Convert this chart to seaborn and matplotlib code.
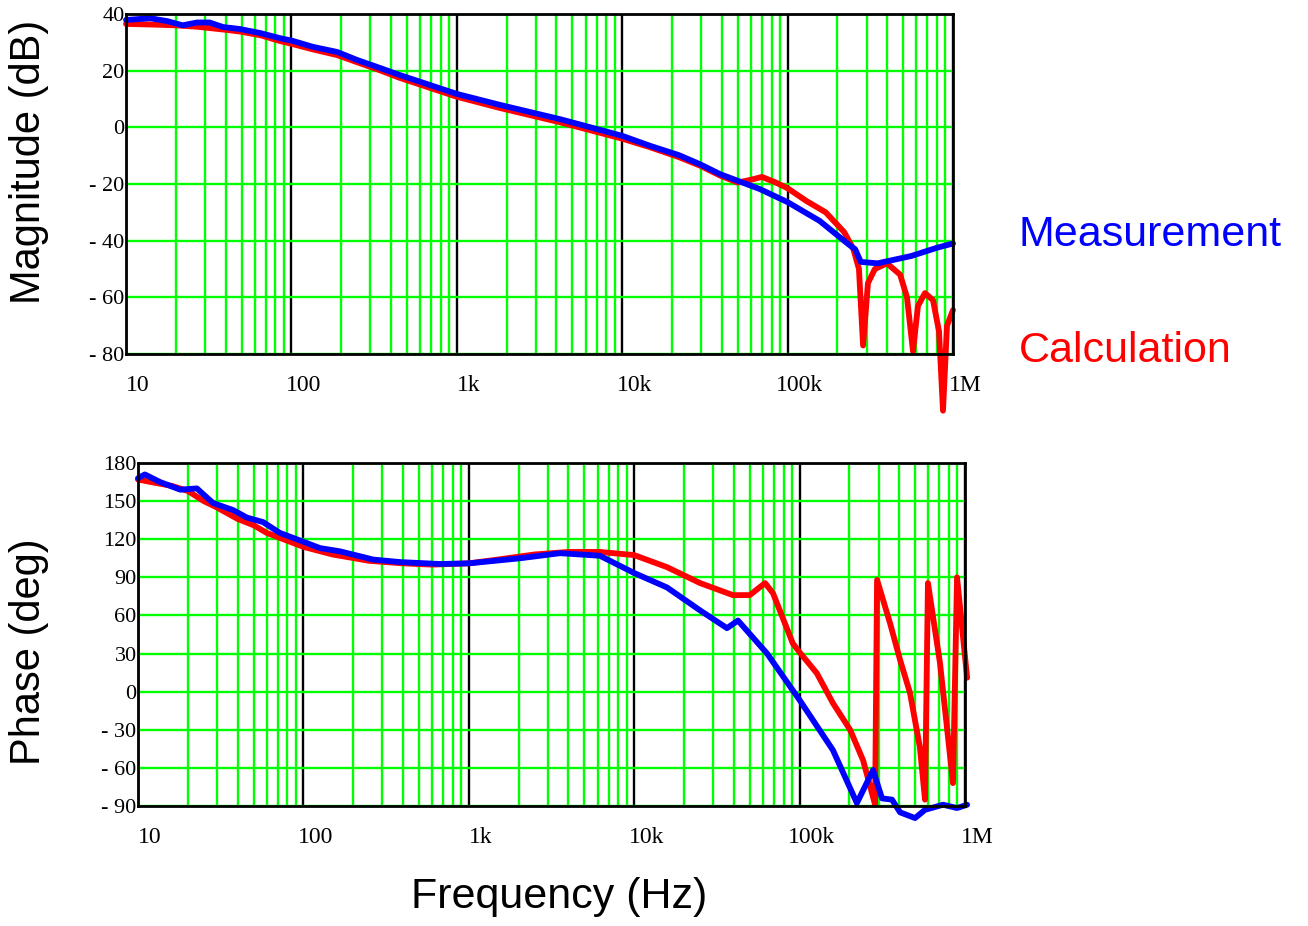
import numpy as np
import pandas as pd
import matplotlib
matplotlib.use("Agg")
import matplotlib.pyplot as plt
import matplotlib.ticker as mticker
import matplotlib.transforms as mtransforms
import seaborn as sns

# ---------------- data ----------------
mag_meas_f = [10, 14, 17.7, 22, 26.9, 32, 38.6, 48.8, 64.5, 85, 102, 135, 189, 249, 330, 450,
              1000, 1830, 4200, 10000, 14700, 22000, 29500, 39000, 68000, 100000, 156000,
              236000, 256000, 277000, 350000, 560000, 800000, 1000000]
mag_meas_db = [37.9, 38.5, 37.5, 36, 37, 37, 35.4, 34.7, 33.3, 31.5, 30.5, 28.4, 26.6, 23.8, 21.3, 18.5,
               11.8, 7.9, 2.9, -3, -6.5, -9.8, -13, -16.5, -21.8, -26.4, -33,
               -41.5, -43, -47.5, -48, -45.4, -42.5, -41]

mag_calc_f = [10, 14, 20, 27, 39, 49, 65, 85, 100, 135, 189, 249, 330, 450, 1000, 1830, 4200,
              10000, 14700, 22000, 29500, 39000, 50000, 60000, 70000, 85000, 100000, 130000,
              170000, 220000, 250000, 270000, 286000, 306000, 337000, 399000, 479000, 527000,
              573000, 614000, 677000, 757000, 823000, 870000, 920000, 1000000]
mag_calc_db = [36.5, 36.3, 36, 35.5, 34.5, 33.8, 32.5, 30.5, 29.5, 27.5, 25.5, 23, 20.5, 17.5, 10.8, 6.8, 1.8,
               -4, -7, -10.5, -13.5, -17, -19.5, -18.5, -17.5, -19.5, -21.5, -26,
               -30, -37, -43, -50, -77, -55, -50, -48, -52, -60,
               -79, -63, -58.5, -61, -72, -100, -70, -64.5]

ph_meas_f = [10, 11, 13.6, 18, 22.7, 28.4, 37.5, 45.6, 57, 72, 100, 126, 166, 264, 384, 670,
             1000, 2040, 3560, 6200, 10000, 15800, 25000, 36400, 42400, 63600, 100000, 159000,
             222000, 278000, 315000, 362000, 405000, 499000, 573000, 736000, 895000, 1030000]
ph_meas_deg = [168, 171, 165, 159, 160, 148.5, 143, 137, 133.5, 125, 118, 113, 110.5, 104, 102, 100.5,
               101, 105, 109, 107, 93.4, 82, 64, 50, 56, 30, -6.6, -46,
               -87.7, -61.7, -84, -85, -95, -99.5, -93, -89, -91.6, -89]

ph_calc_f = [10, 12, 16, 20, 25, 30, 40, 50, 60, 100, 150, 250, 400, 600, 1000, 1500, 2500, 4000,
             6200, 10000, 15800, 25000, 39500, 50000, 61800, 69000, 91000, 100000, 127000,
             159000, 202000, 242000, 286000, 294000, 352000, 405000, 465000, 534000, 573000,
             597000, 706000, 846000, 895000, 1030000]
ph_calc_deg = [167, 165, 162, 158, 150, 145, 136, 131, 125, 114, 108, 103, 101, 100, 101, 104, 108, 110,
               110, 107.5, 98, 85.5, 76, 76, 85.5, 77.6, 38, 31, 14.6,
               -9, -30, -54, -89, 88, 54, 25, -1, -44, -85,
               85.5, 22.5, -72, 90, 11]

x_ticks = [10, 100, 1000, 10000, 100000, 1000000]
x_labels = ["10", "100", "1k", "10k", "100k", "1M"]
mag_ticks = [40, 20, 0, -20, -40, -60, -80]
mag_labels = ["40", "20", "0", "- 20", "- 40", "- 60", "- 80"]
ph_ticks = [180, 150, 120, 90, 60, 30, 0, -30, -60, -90]
ph_labels = ["180", "150", "120", "90", "60", "30", "0", "- 30", "- 60", "- 90"]

# ---------------- figure ----------------
sns.set_style("white")
plt.rcParams['font.family'] = ['Liberation Sans', 'DejaVu Sans']
plt.rcParams['text.color'] = 'black'
plt.rcParams['xtick.color'] = 'black'
plt.rcParams['ytick.color'] = 'black'

W, H = 1308, 926
fig = plt.figure(figsize=(W / 100, H / 100), dpi=100)
ax1 = fig.add_axes([126 / W, 1 - 354 / H, (953 - 126) / W, (354 - 14) / H])
ax2 = fig.add_axes([138 / W, 1 - 806 / H, (965 - 138) / W, (806 - 463) / H])

GREEN = (0, 1, 0)
BLUE = (0, 0, 1)
RED = (1, 0, 0)

df_mm = pd.DataFrame({"f": mag_meas_f, "v": mag_meas_db})
df_mc = pd.DataFrame({"f": mag_calc_f, "v": mag_calc_db})
df_pm = pd.DataFrame({"f": ph_meas_f, "v": ph_meas_deg})
df_pc = pd.DataFrame({"f": ph_calc_f, "v": ph_calc_deg})

offset = mtransforms.ScaledTranslation(12 / 100, 0, fig.dpi_scale_trans)

def style(ax, yticks, ylabels, ylim):
    ax.set_xscale("log")
    ax.set_xlim(10, 1e6)
    ax.set_ylim(*ylim)
    ax.xaxis.set_major_locator(mticker.FixedLocator(x_ticks))
    ax.xaxis.set_major_formatter(mticker.FixedFormatter(x_labels))
    ax.xaxis.set_minor_locator(mticker.LogLocator(base=10, subs=np.arange(2, 10)))
    ax.xaxis.set_minor_formatter(mticker.NullFormatter())
    ax.yaxis.set_major_locator(mticker.FixedLocator(yticks))
    ax.yaxis.set_major_formatter(mticker.FixedFormatter(ylabels))
    ax.set_axisbelow(True)
    ax.xaxis.grid(True, which="minor", color=GREEN, lw=1.7)
    ax.yaxis.grid(True, which="major", color=GREEN, lw=1.7)
    ax.xaxis.grid(True, which="major", color="black", lw=1.7)
    ax.tick_params(axis="both", which="both", length=0)
    ax.tick_params(axis="x", pad=15)
    ax.tick_params(axis="y", pad=1)
    for lbl in ax.get_yticklabels():
        lbl.set_fontfamily("Liberation Serif")
        lbl.set_fontsize(16)
    for lbl in ax.get_xticklabels():
        lbl.set_fontfamily("Liberation Serif")
        lbl.set_fontsize(17)
        lbl.set_ha("center")
        lbl.set_transform(lbl.get_transform() + offset)
    for s in ax.spines.values():
        s.set_color("black")
        s.set_linewidth(2)
        s.set_visible(True)
    ax.set_xlabel("")
    ax.set_ylabel("")

for ax, dc, dm in [(ax1, df_mc, df_mm), (ax2, df_pc, df_pm)]:
    sns.lineplot(data=dc, x="f", y="v", ax=ax, color=RED, lw=4.2, estimator=None, sort=False)
    sns.lineplot(data=dm, x="f", y="v", ax=ax, color=BLUE, lw=4.2, estimator=None, sort=False)
    for ln in ax.lines:
        ln.set_clip_on(False)
        ln.set_solid_joinstyle("round")
        ln.set_solid_capstyle("round")

style(ax1, mag_ticks, mag_labels, (-80, 40))
style(ax2, ph_ticks, ph_labels, (-90, 180))

fig.text(29 / W, 1 - 162 / H, "Magnitude (dB)", rotation=90, ha="center", va="center", fontsize=30)
fig.text(29 / W, 1 - 652 / H, "Phase (deg)", rotation=90, ha="center", va="center", fontsize=30)
fig.text(559 / W, 1 - 897 / H, "Frequency (Hz)", ha="center", va="center", fontsize=31)
fig.text(1019 / W, 1 - 235 / H, "Measurement", ha="left", va="center", fontsize=31, color=BLUE)
fig.text(1019 / W, 1 - 351 / H, "Calculation", ha="left", va="center", fontsize=31, color=RED)

fig.savefig("out.png", dpi=100, facecolor="white")
